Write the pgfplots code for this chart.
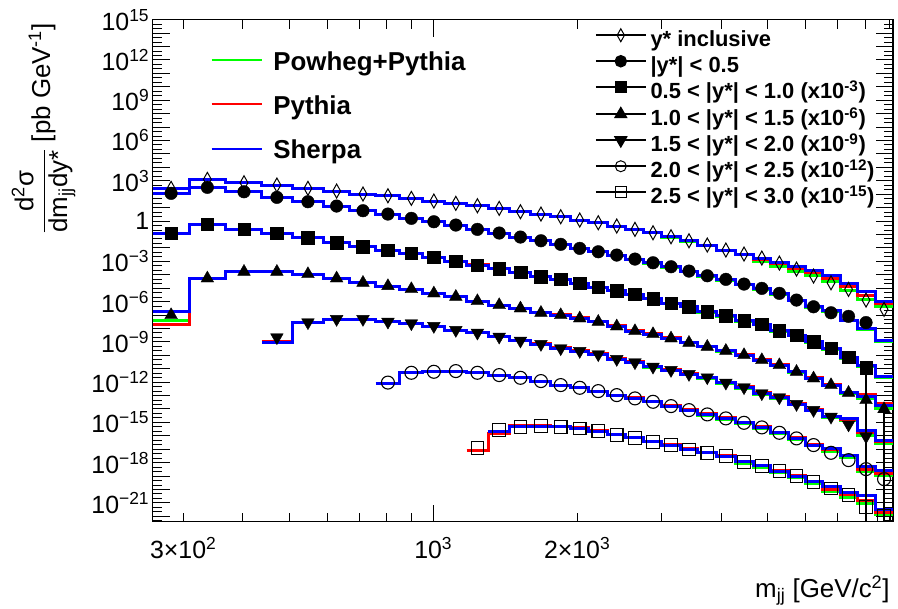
\documentclass[border=0pt]{standalone}
\usepackage{fontspec}
\setmainfont{Liberation Sans}
\usepackage{pgfplots}
\usepackage{pgfplotstable}
\pgfplotsset{compat=1.18}
\definecolor{cg}{RGB}{0,255,0}
\definecolor{cr}{RGB}{255,0,0}
\definecolor{cb}{RGB}{0,0,255}

% y* inclusive
\pgfplotstableread{
lo c d g r b
259 283 274 274 274 274
309 337 1280 1280 1280 1280
368 402 714 714 714 714
438 471 482 482 482 482
508 547 274 274 274 274
589 628 172 172 172 172
669 713 103 103 103 103
759 804 76.7 76.7 76.7 76.7
852 900 49.2 49.2 49.2 49.2
950 1003 30.9 30.9 30.9 30.9
1058 1115 20.8 20.8 20.8 20.8
1175 1237 13.8 13.8 13.8 13.8
1303 1374 8.83 8.83 8.83 8.83
1447 1522 4.93 4.93 4.93 4.93
1601 1680 3.33 3.33 3.33 3.33
1763 1848 2.09 2.09 2.09 2.09
1936 2025 1.19 1.19 1.19 1.19
2117 2214 0.746 0.746 0.746 0.746
2314 2420 0.424 0.424 0.424 0.424
2530 2642 0.240 0.240 0.240 0.240
2759 2882 0.134 0.130 0.134 0.134
3009 3143 0.0676 0.062 0.0676 0.0676
3282 3427 0.0340 0.030 0.0340 0.0340
3579 3743 0.0163 0.0139 0.0158 0.0163
3913 4093 6.90e-3 5.9e-3 6.7e-3 6.90e-3
4278 4467 3.48e-3 2.96e-3 3.3e-3 3.48e-3
4665 4867 1.75e-3 1.04e-3 1.35e-3 1.75e-3
5076 5296 7.41e-4 4.44e-4 6.81e-4 8.37e-4
5523 5752 2.65e-4 1.88e-4 2.89e-4 4.44e-4
5995 6244 7.98e-5 8.69e-5 1.45e-4 2.23e-4
6505 6792 2.52e-5 3.00e-5 5.37e-5 9.46e-5
7095 7390 8.15e-6 7.21e-6 1.27e-5 2.28e-5
7698 8039 1.30e-6 1.46e-6 3.06e-6 5.40e-6
8398 8767 2.63e-7 4.63e-7 7.36e-7 9.70e-7
9155 nan nan 4.63e-7 7.36e-7 9.70e-7
}\tA

% |y*| < 0.5
\pgfplotstableread{
lo c d g r b
259 283 116 116 116 116
309 337 324 324 324 324
368 402 152 152 152 152
438 471 58.3 58.3 58.3 58.3
508 547 27.4 27.4 27.4 27.4
589 628 13.1 13.1 13.1 13.1
669 713 5.86 5.86 5.86 5.86
759 804 3.33 3.33 3.33 3.33
852 900 1.59 1.59 1.59 1.59
950 1003 0.887 0.887 0.887 0.887
1058 1115 0.504 0.504 0.504 0.504
1175 1237 0.240 0.240 0.240 0.240
1303 1374 0.128 0.128 0.128 0.128
1447 1522 0.0643 0.0643 0.0643 0.0643
1601 1680 0.0340 0.0340 0.0340 0.0340
1763 1848 0.0184 0.0184 0.0184 0.0184
1936 2025 9.25e-3 9.25e-3 9.25e-3 9.25e-3
2117 2214 5.15e-3 5.15e-3 5.15e-3 5.15e-3
2314 2420 2.93e-3 2.93e-3 2.93e-3 2.93e-3
2530 2642 1.47e-3 1.47e-3 1.47e-3 1.47e-3
2759 2882 7.82e-4 7.4e-4 7.82e-4 7.82e-4
3009 3143 3.94e-4 3.6e-4 3.94e-4 3.94e-4
3282 3427 1.88e-4 1.7e-4 1.88e-4 1.88e-4
3579 3743 8.39e-5 7.6e-5 8.39e-5 8.39e-5
3913 4093 4.53e-5 4.0e-5 4.53e-5 4.53e-5
4278 4467 2.02e-5 1.75e-5 2.02e-5 2.02e-5
4665 4867 9.66e-6 8.4e-6 9.66e-6 9.66e-6
5076 5296 4.10e-6 3.5e-6 4.10e-6 4.10e-6
5523 5752 1.30e-6 1.15e-6 1.30e-6 1.30e-6
5995 6244 4.11e-7 3.6e-7 4.11e-7 4.11e-7
6505 6792 1.47e-7 1.7e-7 2.0e-7 2.33e-7
7095 7390 7.93e-8 3.6e-8 4.0e-8 4.20e-8
7698 8039 2.74e-8 8.5e-9 9.5e-9 1.01e-8
8398 8767 nan 1.15e-9 1.3e-9 1.36e-9
9155 nan nan 1.15e-9 1.3e-9 1.36e-9
}\tB

% 0.5 < |y*| < 1.0 (x1e-3)
\pgfplotstableread{
lo c d g r b
259 283 0.121 0.121 0.121 0.121
309 337 0.568 0.568 0.568 0.568
368 402 0.241 0.241 0.241 0.241
438 471 0.121 0.121 0.121 0.121
508 547 0.0570 0.0570 0.0570 0.0570
589 628 0.0242 0.0242 0.0242 0.0242
669 713 0.0122 0.0122 0.0122 0.0122
759 804 6.90e-3 6.90e-3 6.90e-3 6.90e-3
852 900 3.92e-3 3.92e-3 3.92e-3 3.92e-3
950 1003 1.97e-3 1.97e-3 1.97e-3 1.97e-3
1058 1115 1.04e-3 1.04e-3 1.04e-3 1.04e-3
1175 1237 5.26e-4 5.26e-4 5.6e-4 5.26e-4
1303 1374 2.79e-4 2.79e-4 3.0e-4 2.79e-4
1447 1522 1.58e-4 1.58e-4 1.58e-4 1.58e-4
1601 1680 7.08e-5 7.08e-5 7.08e-5 7.08e-5
1763 1848 4.53e-5 4.53e-5 4.53e-5 4.53e-5
1936 2025 2.28e-5 2.28e-5 2.28e-5 2.28e-5
2117 2214 1.15e-5 1.15e-5 1.15e-5 1.15e-5
2314 2420 6.40e-6 6.40e-6 6.40e-6 6.40e-6
2530 2642 3.45e-6 3.45e-6 3.45e-6 3.45e-6
2759 2882 1.68e-6 1.68e-6 1.68e-6 1.68e-6
3009 3143 7.76e-7 7.76e-7 7.76e-7 7.76e-7
3282 3427 4.11e-7 4.11e-7 4.11e-7 4.11e-7
3579 3743 1.75e-7 1.6e-7 1.75e-7 1.75e-7
3913 4093 9.08e-8 8.2e-8 9.08e-8 9.08e-8
4278 4467 3.85e-8 3.4e-8 3.85e-8 3.85e-8
4665 4867 2.11e-8 1.85e-8 2.11e-8 2.11e-8
5076 5296 6.70e-9 6.0e-9 6.70e-9 6.70e-9
5523 5752 3.20e-9 2.8e-9 3.20e-9 3.20e-9
5995 6244 1.01e-9 0.9e-9 1.01e-9 1.01e-9
6505 6792 3.27e-10 2.9e-10 3.27e-10 3.27e-10
7095 7390 6.97e-11 6.2e-11 6.97e-11 6.97e-11
7698 8039 1.25e-11 1.4e-11 1.7e-11 1.86e-11
8398 8767 nan 2.2e-12 2.6e-12 2.82e-12
9155 nan nan 2.2e-12 2.6e-12 2.82e-12
}\tC

% 1.0 < |y*| < 1.5 (x1e-6)
\pgfplotstableread{
lo c d g r b
259 283 9.91e-8 3.72e-8 2.11e-8 1.97e-7
309 337 5.37e-5 5.37e-5 5.37e-5 5.37e-5
368 402 1.67e-4 1.67e-4 1.67e-4 1.67e-4
438 471 1.67e-4 1.67e-4 1.67e-4 1.67e-4
508 547 1.12e-4 1.12e-4 1.12e-4 1.12e-4
589 628 5.37e-5 5.37e-5 5.37e-5 5.37e-5
669 713 2.52e-5 2.52e-5 2.52e-5 2.52e-5
759 804 1.44e-5 1.44e-5 1.44e-5 1.44e-5
852 900 8.57e-6 8.57e-6 8.57e-6 8.57e-6
950 1003 4.10e-6 4.10e-6 4.10e-6 4.10e-6
1058 1115 2.29e-6 2.29e-6 2.29e-6 2.29e-6
1175 1237 1.09e-6 1.09e-6 1.09e-6 1.09e-6
1303 1374 5.51e-7 5.51e-7 5.51e-7 5.51e-7
1447 1522 3.13e-7 3.13e-7 3.13e-7 3.13e-7
1601 1680 1.47e-7 1.47e-7 1.6e-7 1.47e-7
1763 1848 9.91e-8 9.91e-8 1.08e-7 9.91e-8
1936 2025 5.62e-8 5.62e-8 6.1e-8 5.62e-8
2117 2214 3.13e-8 3.13e-8 3.4e-8 3.13e-8
2314 2420 1.43e-8 1.43e-8 1.55e-8 1.43e-8
2530 2642 6.36e-9 6.36e-9 6.9e-9 6.36e-9
2759 2882 3.80e-9 3.80e-9 4.1e-9 3.80e-9
3009 3143 1.82e-9 1.82e-9 1.97e-9 1.82e-9
3282 3427 8.53e-10 8.53e-10 9.2e-10 8.53e-10
3579 3743 4.30e-10 4.30e-10 4.6e-10 4.30e-10
3913 4093 2.16e-10 2.0e-10 2.3e-10 2.16e-10
4278 4467 1.04e-10 0.95e-10 1.1e-10 1.04e-10
4665 4867 4.39e-11 4.0e-11 4.7e-11 4.39e-11
5076 5296 1.86e-11 1.7e-11 2.0e-11 1.86e-11
5523 5752 5.90e-12 5.4e-12 6.3e-12 5.90e-12
5995 6244 1.90e-12 1.75e-12 2.05e-12 1.90e-12
6505 6792 6.03e-13 5.5e-13 6.5e-13 6.03e-13
7095 7390 1.61e-13 1.5e-13 1.75e-13 1.61e-13
7698 8039 4.59e-14 6.47e-14 1.29e-13 8.09e-14
8398 8767 9.79e-15 1.16e-14 2.61e-14 1.95e-14
9155 nan nan 1.16e-14 2.61e-14 1.95e-14
}\tD

% 1.5 < |y*| < 2.0 (x1e-9)
\pgfplotstableread{
lo c d g r b
259 283 nan nan nan nan
309 337 nan nan nan nan
368 402 nan nan nan nan
438 471 2.16e-9 1.14e-9 1.14e-9 8.53e-10
508 547 2.83e-8 2.83e-8 2.83e-8 2.83e-8
589 628 4.99e-8 4.99e-8 4.99e-8 4.99e-8
669 713 4.99e-8 4.99e-8 4.99e-8 4.99e-8
759 804 3.13e-8 3.13e-8 3.13e-8 3.13e-8
852 900 2.38e-8 2.38e-8 2.38e-8 2.38e-8
950 1003 1.50e-8 1.50e-8 1.50e-8 1.50e-8
1058 1115 7.55e-9 7.55e-9 7.55e-9 7.55e-9
1175 1237 4.75e-9 4.75e-9 4.75e-9 4.75e-9
1303 1374 2.39e-9 2.39e-9 2.39e-9 2.39e-9
1447 1522 1.21e-9 1.21e-9 1.21e-9 1.21e-9
1601 1680 6.84e-10 6.84e-10 7.4e-10 6.84e-10
1763 1848 3.27e-10 3.27e-10 3.55e-10 3.27e-10
1936 2025 2.06e-10 2.06e-10 2.24e-10 2.06e-10
2117 2214 1.17e-10 1.17e-10 1.27e-10 1.17e-10
2314 2420 5.21e-11 5.21e-11 5.7e-11 5.21e-11
2530 2642 2.96e-11 2.7e-11 3.2e-11 2.96e-11
2759 2882 1.39e-11 1.25e-11 1.5e-11 1.39e-11
3009 3143 7.89e-12 7.1e-12 8.5e-12 7.89e-12
3282 3427 3.97e-12 3.5e-12 4.3e-12 3.97e-12
3579 3743 2.25e-12 2.0e-12 2.4e-12 2.25e-12
3913 4093 8.93e-13 8.0e-13 9.6e-13 8.93e-13
4278 4467 4.06e-13 3.6e-13 4.4e-13 4.06e-13
4665 4867 1.45e-13 1.3e-13 1.57e-13 1.45e-13
5076 5296 7.29e-14 6.5e-14 7.9e-14 7.29e-14
5523 5752 2.31e-14 2.05e-14 2.5e-14 2.31e-14
5995 6244 8.26e-15 7.4e-15 8.9e-15 8.26e-15
6505 6792 2.61e-15 2.3e-15 2.8e-15 2.61e-15
7095 7390 6.85e-16 1.3e-15 1.7e-15 1.99e-15
7698 8039 9.06e-17 1.13e-16 1.89e-16 2.67e-16
8398 8767 nan 2.87e-17 3.59e-17 4.80e-17
9155 nan nan 2.87e-17 3.59e-17 4.80e-17
}\tE

% 2.0 < |y*| < 2.5 (x1e-12)
\pgfplotstableread{
lo c d g r b
759 804 9.25e-13 8.05e-13 8.05e-13 8.05e-13
852 900 4.97e-12 4.97e-12 4.97e-12 4.97e-12
950 1003 5.90e-12 5.90e-12 5.90e-12 5.90e-12
1058 1115 6.65e-12 6.65e-12 6.65e-12 6.65e-12
1175 1237 4.97e-12 4.97e-12 4.97e-12 4.97e-12
1303 1374 3.35e-12 3.35e-12 3.35e-12 3.35e-12
1447 1522 2.10e-12 2.10e-12 2.10e-12 2.10e-12
1601 1680 1.20e-12 1.20e-12 1.20e-12 1.20e-12
1763 1848 6.03e-13 6.03e-13 6.03e-13 6.03e-13
1936 2025 3.78e-13 3.78e-13 3.78e-13 3.78e-13
2117 2214 2.15e-13 2.15e-13 2.15e-13 2.15e-13
2314 2420 1.08e-13 1.08e-13 1.08e-13 1.08e-13
2530 2642 6.14e-14 6.14e-14 6.6e-14 6.14e-14
2759 2882 3.43e-14 3.43e-14 3.7e-14 3.43e-14
3009 3143 1.64e-14 1.5e-14 1.77e-14 1.64e-14
3282 3427 8.26e-15 7.4e-15 8.9e-15 8.26e-15
3579 3743 3.94e-15 3.5e-15 4.25e-15 3.94e-15
3913 4093 1.99e-15 1.75e-15 2.15e-15 1.99e-15
4278 4467 9.33e-16 8.2e-16 1.0e-15 9.33e-16
4665 4867 4.24e-16 3.7e-16 4.55e-16 4.24e-16
5076 5296 1.68e-16 1.45e-16 1.8e-16 1.68e-16
5523 5752 6.43e-17 5.6e-17 6.9e-17 6.43e-17
5995 6244 2.04e-17 1.8e-17 2.2e-17 2.04e-17
6505 6792 5.43e-18 6.67e-18 9.40e-18 1.16e-17
7095 7390 1.55e-18 2.47e-18 3.24e-18 3.66e-18
7698 8039 3.31e-19 2.08e-19 3.15e-19 4.92e-19
8398 8767 5.96e-20 1.18e-19 1.58e-19 2.79e-19
9155 nan nan 1.18e-19 1.58e-19 2.79e-19
}\tF

% 2.5 < |y*| < 3.0 (x1e-15)
\pgfplotstableread{
lo c d g r b
1175 1237 1.28e-17 nan 8.63e-18 nan
1303 1374 2.67e-16 2.00e-16 1.51e-16 2.00e-16
1447 1522 4.70e-16 4.70e-16 5.58e-16 4.70e-16
1601 1680 5.30e-16 5.30e-16 5.9e-16 5.30e-16
1763 1848 4.70e-16 4.70e-16 5.3e-16 4.70e-16
1936 2025 3.57e-16 3.57e-16 4.0e-16 3.57e-16
2117 2214 2.25e-16 2.25e-16 2.5e-16 2.25e-16
2314 2420 1.19e-16 1.19e-16 1.33e-16 1.19e-16
2530 2642 7.00e-17 7.00e-17 7.8e-17 7.00e-17
2759 2882 3.58e-17 3.58e-17 4.0e-17 3.58e-17
3009 3143 2.04e-17 2.04e-17 2.28e-17 2.04e-17
3282 3427 9.73e-18 9.73e-18 1.09e-17 9.73e-18
3579 3743 5.43e-18 5.43e-18 6.1e-18 5.43e-18
3913 4093 3.08e-18 2.8e-18 3.3e-18 3.08e-18
4278 4467 1.16e-18 9.3e-19 1.25e-18 1.16e-18
4665 4867 5.83e-19 4.7e-19 6.2e-19 5.83e-19
5076 5296 2.35e-19 1.88e-19 2.5e-19 2.35e-19
5523 5752 9.98e-20 8.0e-20 1.05e-19 9.98e-20
5995 6244 3.75e-20 3.0e-20 3.9e-20 3.75e-20
6505 6792 1.21e-20 6.73e-21 1.02e-20 1.59e-20
7095 7390 3.83e-21 2.72e-21 4.54e-21 6.40e-21
7698 8039 5.14e-22 9.70e-22 1.62e-21 3.83e-21
8398 8767 1.04e-22 1.47e-22 2.07e-22 3.29e-22
9155 nan nan 1.47e-22 2.07e-22 3.29e-22
}\tG

\def\yminorlist{}
\pgfplotsforeachungrouped \k in {-23,...,13}{\edef\yminorlist{\yminorlist 2.154e\k,4.642e\k,}}
\edef\yminorlist{\yminorlist 2.154e14,4.642e14}

\pgfplotsset{
  mcline/.style={const plot, line width=3bp, forget plot},
}

\begin{document}
\begin{tikzpicture}
\useasboundingbox (0,0) rectangle (898bp,609bp);
\begin{axis}[
  at={(152.7bp,87.3bp)}, anchor=south west, scale only axis,
  width=740.3bp, height=502bp,
  xmode=log, ymode=log,
  xmin=259, xmax=9155, ymin=4e-23, ymax=1e15,
  clip marker paths=true,
  axis line style={line width=1.2bp},
  every tick/.style={black, line width=1bp},
  major tick length=17bp, minor tick length=9bp,
  xtick={1000}, xticklabels={10\textsuperscript{3}},
  extra x ticks={300,2000},
  extra x tick labels={3×10\textsuperscript{2},2×10\textsuperscript{3}},
  extra x tick style={major tick length=9bp},
  minor xtick={400,500,600,700,800,900,3000,4000,5000,6000,7000,8000,9000},
  ytick={1e-21,1e-18,1e-15,1e-12,1e-9,1e-6,1e-3,1,1e3,1e6,1e9,1e12,1e15},
  yticklabels={10\textsuperscript{−21},10\textsuperscript{−18},10\textsuperscript{−15},10\textsuperscript{−12},10\textsuperscript{−9},10\textsuperscript{−6},10\textsuperscript{−3},1,10\textsuperscript{3},10\textsuperscript{6},10\textsuperscript{9},10\textsuperscript{12},10\textsuperscript{15}},
  extra y ticks={1e-22,1e-20,1e-19,1e-17,1e-16,1e-14,1e-13,1e-11,1e-10,1e-8,1e-7,1e-5,1e-4,1e-2,1e-1,1e1,1e2,1e4,1e5,1e7,1e8,1e10,1e11,1e13,1e14},
  extra y tick labels={},
  minor ytick/.expanded={\yminorlist},
  tick label style={font=\fontsize{25}{25}\selectfont},
  xticklabel style={yshift=-12bp},
  xlabel={m\textsubscript{jj} [GeV/c\textsuperscript{2}]},
  xlabel style={font=\fontsize{26}{26}\selectfont, at={(axis description cs:1,-0.15)}, anchor=base east},
  ylabel={$\displaystyle\frac{\hbox{d\textsuperscript{2}σ}}{\hbox{dm\textsubscript{jj}dy*}}$ [pb GeV\textsuperscript{-1}]},
  ylabel style={font=\fontsize{26}{26}\selectfont, at={(axis description cs:-0.1387,1)}, anchor=base east},
  legend image code/.code={\draw[#1, mark=none] (0bp,7.5bp) -- (50bp,7.5bp); \draw[#1] plot coordinates {(25bp,7.5bp)};},
  legend style={draw=none, fill=none, at={(axis description cs:0.5975,0.982)}, anchor=north west, inner sep=0pt, outer sep=0pt, row sep=0pt, column sep=4bp, font=\fontsize{22}{22}\selectfont\bfseries, nodes={inner sep=0pt, text height=17bp, text depth=9bp}},
  legend cell align=left,
]
% MC histograms
\addplot[mcline, cg] table[x=lo,y=g]{\tA};
\addplot[mcline, cr] table[x=lo,y=r]{\tA};
\addplot[mcline, cb] table[x=lo,y=b]{\tA};
\addplot[mcline, cg] table[x=lo,y=g]{\tB};
\addplot[mcline, cr] table[x=lo,y=r]{\tB};
\addplot[mcline, cb] table[x=lo,y=b]{\tB};
\addplot[mcline, cg] table[x=lo,y=g]{\tC};
\addplot[mcline, cr] table[x=lo,y=r]{\tC};
\addplot[mcline, cb] table[x=lo,y=b]{\tC};
\addplot[mcline, cg] table[x=lo,y=g]{\tD};
\addplot[mcline, cr] table[x=lo,y=r]{\tD};
\addplot[mcline, cb] table[x=lo,y=b]{\tD};
\addplot[mcline, cg] table[x=lo,y=g]{\tE};
\addplot[mcline, cr] table[x=lo,y=r]{\tE};
\addplot[mcline, cb] table[x=lo,y=b]{\tE};
\addplot[mcline, cg] table[x=lo,y=g]{\tF};
\addplot[mcline, cr] table[x=lo,y=r]{\tF};
\addplot[mcline, cb] table[x=lo,y=b]{\tF};
\addplot[mcline, cg] table[x=lo,y=g]{\tG};
\addplot[mcline, cr] table[x=lo,y=r]{\tG};
\addplot[mcline, cb] table[x=lo,y=b]{\tG};
% large error bars
\addplot[black, line width=2.2bp, forget plot] coordinates {(8039,1.25e-11) (8039,1e-26)};
\addplot[black, line width=2.2bp, forget plot] coordinates {(8767,9.79e-15) (8767,1e-26)};
% data
\addplot[only marks, black, forget plot, mark=diamond, mark size=7bp, mark options={xscale=0.75, line width=1bp}] table[x=c,y=d]{\tA};
\addplot[only marks, black, forget plot, mark=*, mark size=6.3bp] table[x=c,y=d]{\tB};
\addplot[only marks, black, forget plot, mark=square*, mark size=6.3bp] table[x=c,y=d]{\tC};
\addplot[only marks, black, forget plot, mark=triangle*, mark size=7.3bp] table[x=c,y=d]{\tD};
\addplot[only marks, black, forget plot, mark=triangle*, mark size=7.3bp, mark options={rotate=180}] table[x=c,y=d]{\tE};
\addplot[only marks, black, forget plot, mark=o, mark size=6.5bp, mark options={line width=1.1bp}] table[x=c,y=d]{\tF};
\addplot[only marks, black, forget plot, mark=square, mark size=6.3bp, mark options={line width=1.1bp}] table[x=c,y=d]{\tG};
% legend
\addlegendimage{black, line width=1.5bp, mark=diamond, mark size=6.5bp, mark options={xscale=0.75, line width=1bp}}
\addlegendentry{y* inclusive}
\addlegendimage{black, line width=1.5bp, mark=*, mark size=5.5bp}
\addlegendentry{|y*| < 0.5}
\addlegendimage{black, line width=1.5bp, mark=square*, mark size=5.5bp}
\addlegendentry{0.5 < |y*| < 1.0 (x10\textsuperscript{-3})}
\addlegendimage{black, line width=1.5bp, mark=triangle*, mark size=6.5bp}
\addlegendentry{1.0 < |y*| < 1.5 (x10\textsuperscript{-6})}
\addlegendimage{black, line width=1.5bp, mark=triangle*, mark size=6.5bp, mark options={rotate=180}}
\addlegendentry{1.5 < |y*| < 2.0 (x10\textsuperscript{-9})}
\addlegendimage{black, line width=1.5bp, mark=o, mark size=5.5bp, mark options={line width=1bp}}
\addlegendentry{2.0 < |y*| < 2.5 (x10\textsuperscript{-12})}
\addlegendimage{black, line width=1.5bp, mark=square, mark size=5.5bp, mark options={line width=1bp}}
\addlegendentry{2.5 < |y*| < 3.0 (x10\textsuperscript{-15})}
\end{axis}
\begin{axis}[
  at={(152.7bp,87.3bp)}, anchor=south west, scale only axis,
  width=740.3bp, height=502bp, hide axis,
  xmin=0, xmax=1, ymin=0, ymax=1,
  legend image code/.code={\draw[#1] (0bp,13bp) -- (50bp,13bp);},
  legend style={draw=none, fill=none, at={(axis description cs:0.0783,0.9376)}, anchor=north west, inner sep=0pt, outer sep=0pt, row sep=0pt, column sep=10.7bp, font=\fontsize{26}{26}\selectfont\bfseries, nodes={inner sep=0pt, text height=19bp, text depth=25.2bp}},
  legend cell align=left,
]
\addlegendimage{cg, line width=2bp}
\addlegendentry{Powheg+Pythia}
\addlegendimage{cr, line width=2bp}
\addlegendentry{Pythia}
\addlegendimage{cb, line width=2bp}
\addlegendentry{Sherpa}
\end{axis}
\end{tikzpicture}
\end{document}
